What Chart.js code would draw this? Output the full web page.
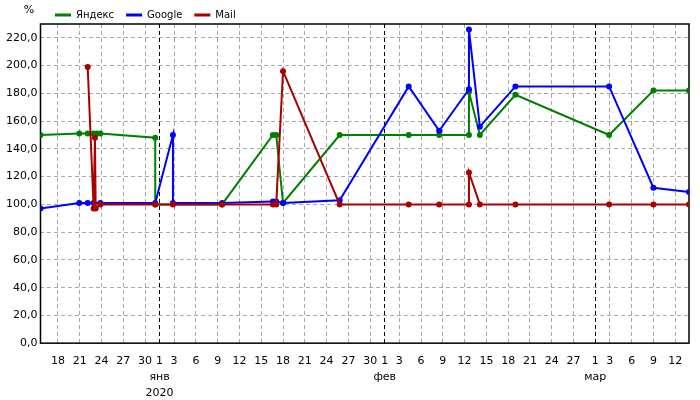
<!DOCTYPE html>
<html>
<head>
<meta charset="utf-8">
<script src="https://cdn.jsdelivr.net/npm/chart.js@4/dist/chart.umd.min.js"></script>
<style>
  html, body { margin: 0; padding: 0; background: #fff; }
  #wrap { width: 700px; height: 400px; }
</style>
</head>
<body>
<div id="wrap"><canvas id="chart" width="700" height="400"></canvas></div>
<script>
// days counted from 1 Jan 2020 (negative = December 2019)
const tickDays = [-14, -11, -8, -5, -2, 0, 2, 5, 8, 11, 14, 17, 20, 23, 26, 29,
                  31, 33, 36, 39, 42, 45, 48, 51, 54, 57, 60, 62, 65, 68, 71];
const tickLabels = ['18', '21', '24', '27', '30', ['1', 'янв', '2020'], '3', '6', '9', '12', '15', '18', '21', '24', '27', '30',
                    ['1', 'фев'], '3', '6', '9', '12', '15', '18', '21', '24', '27', ['1', 'мар'], '3', '6', '9', '12'];
const monthStarts = [0, 31, 60];
const yTicks = [0, 230, 10]; // min, max, step

const yandexDays = [-16.4, -11.06, -9.9, -9.08, -8.6, -8.16, -0.6, -0.6, 8.6, 15.6, 16.06, 17.0, 24.8, 34.3, 38.5, 42.6, 42.6, 44.1, 49, 61.9, 68, 72.9];
const yandexVals = [150, 151, 151, 151, 151, 151, 148, 100, 100, 150, 150, 101, 150, 150, 150, 150, 181, 150, 179, 150, 182, 182];

const googleDays = [-16.4, -11.06, -9.9, -9.08, -8.16, -0.6, 1.84, 1.84, 8.6, 15.6, 16.06, 17.0, 24.8, 34.3, 38.5, 42.6, 42.6, 44.1, 49, 61.9, 68, 72.9];
const googleVals = [97, 101, 101, 101, 101, 101, 150, 101, 101, 102, 102, 101, 103, 185, 153, 183, 226, 156, 185, 185, 112, 109];

const mailDays = [-9.9, -9.08, -8.9, -8.8, -8.16, -0.6, 1.84, 8.6, 15.6, 16.06, 17.0, 24.8, 34.3, 38.5, 42.6, 42.6, 44.1, 49, 61.9, 68, 72.9];
const mailVals = [199, 97, 148, 97, 100, 100, 100, 100, 100, 100, 196, 100, 100, 100, 100, 123, 100, 100, 100, 100, 100];

const FONT = 'DejaVu Sans';
const pts = (xs, ys) => xs.map((x, i) => ({ x: x, y: ys[i] }));

function series(label, color, xs, ys, order) {
    return { label: label, data: pts(xs, ys), borderColor: color, backgroundColor: color,
             pointBackgroundColor: color, pointBorderColor: color, borderWidth: 2,
             pointRadius: 3, pointBorderWidth: 0, tension: 0, order: order };
}

const framePlugin = {
    id: 'frame',
    beforeLayout(chart) {
        const lg = chart.legend;
        if (lg && !lg._patched) {
            const fit = lg.fit;
            lg.fit = function () { fit.call(this); this.height = 24; };
            lg._patched = true;
        }
    },
    afterLayout(chart) { chart.legend.left = 43; chart.legend.top = -2; },
    beforeDatasetsDraw(chart) {
        const { ctx, chartArea: a } = chart;
        ctx.save();
        ctx.strokeStyle = '#000';
        ctx.lineWidth = 1.5;
        ctx.strokeRect(a.left, a.top, a.right - a.left, a.bottom - a.top);
        ctx.restore();
    },
    afterDraw(chart) {
        const ctx = chart.ctx;
        ctx.save();
        ctx.fillStyle = '#000';
        ctx.font = '11px "' + FONT + '"';
        ctx.textAlign = 'center';
        ctx.textBaseline = 'middle';
        ctx.fillText('%', 29, 10);
        ctx.restore();
    }
};

new Chart(document.getElementById('chart'), {
    type: 'line',
    data: { datasets: [
        series('Яндекс', '#008000', yandexDays, yandexVals, 2),
        series('Google', '#0000ff', googleDays, googleVals, 1),
        series('Mail', '#aa0000', mailDays, mailVals, 0)
    ] },
    options: {
        responsive: false, animation: false,
        layout: { padding: { left: 3, right: 11, top: 0, bottom: 0 } },
        plugins: {
            tooltip: { enabled: false },
            legend: {
                position: 'top', align: 'start',
                labels: {
                    boxWidth: 16, boxHeight: 3, padding: 12, color: '#000',
                    font: { size: 10, family: FONT },
                    sort: (a, b) => a.datasetIndex - b.datasetIndex,
                    generateLabels: (chart) => Chart.defaults.plugins.legend.labels.generateLabels(chart).map(l => ({ ...l, lineWidth: 0 }))
                }
            }
        },
        scales: {
            x: {
                type: 'linear', min: -16.4, max: 72.9,
                afterBuildTicks: (axis) => { axis.ticks = tickDays.map(v => ({ value: v })); },
                afterFit: (axis) => { axis.height -= 11; },
                ticks: {
                    autoSkip: false, maxRotation: 0, padding: 10, color: '#000',
                    font: { size: 11, family: FONT, lineHeight: 1.45 },
                    callback: (v) => { const i = tickDays.indexOf(v); return i >= 0 ? tickLabels[i] : ''; }
                },
                grid: { drawTicks: false, lineWidth: 1,
                        color: (c) => (c.tick && monthStarts.includes(c.tick.value)) ? '#000' : '#a8a8a8' },
                border: { display: false, dash: [4, 3] }
            },
            y: {
                min: yTicks[0], max: yTicks[1],
                ticks: { stepSize: yTicks[2], padding: 3, color: '#000',
                         font: { size: 11, family: FONT },
                         callback: (v) => v.toFixed(1).replace('.', ',') },
                grid: { drawTicks: false, color: '#a8a8a8', lineWidth: 1 },
                border: { display: false, dash: [4, 3] }
            }
        }
    },
    plugins: [framePlugin]
});
</script>
</body>
</html>
